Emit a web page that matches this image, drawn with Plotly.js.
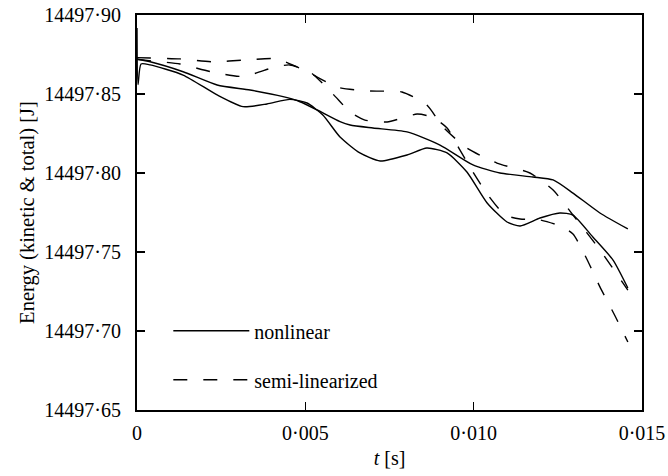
<!DOCTYPE html>
<html>
<head>
<meta charset="utf-8">
<script src="https://cdn.plot.ly/plotly-3.0.1.min.js"></script>
<style>html,body{margin:0;padding:0;background:#fff;}#chart{width:668px;height:476px;}</style>
</head>
<body>
<div id="chart"></div>
<script>
// Nonlinear model: total energy
const tNlTotal = [0, 0.00039, 0.00137, 0.00238, 0.00336, 0.00434, 0.00484, 0.00535, 0.00603, 0.00633, 0.00701, 0.00802, 0.00900, 0.00998, 0.01078, 0.01176, 0.01236, 0.01295, 0.01375, 0.01458];
const eNlTotal = [14497.872, 14497.8704, 14497.8641, 14497.8557, 14497.8525, 14497.8483, 14497.8451, 14497.8399, 14497.8325, 14497.8304, 14497.8285, 14497.8260, 14497.8177, 14497.8051, 14497.8000, 14497.7975, 14497.7956, 14497.7873, 14497.7747, 14497.7646];
// Nonlinear model: kinetic energy
const tNlKinetic = [0, 0.00003, 0.00012, 0.00039, 0.00137, 0.00238, 0.00315, 0.00386, 0.00454, 0.00505, 0.00552, 0.00603, 0.00662, 0.00722, 0.00802, 0.00861, 0.00921, 0.00980, 0.01040, 0.01099, 0.01138, 0.01197, 0.01256, 0.01295, 0.01354, 0.01414, 0.01458];
const eNlKinetic = [14497.8918, 14497.856, 14497.869, 14497.8684, 14497.8620, 14497.8494, 14497.8420, 14497.8437, 14497.8466, 14497.8443, 14497.8367, 14497.8228, 14497.8127, 14497.8076, 14497.8114, 14497.8158, 14497.8127, 14497.8006, 14497.7810, 14497.7690, 14497.7665, 14497.7715, 14497.7747, 14497.7734, 14497.7595, 14497.7449, 14497.7272];
// Semi-linearized model: total energy
const tSlTotal = [0, 0.00039, 0.00128, 0.00226, 0.00321, 0.00416, 0.00505, 0.00597, 0.00692, 0.00787, 0.00861, 0.00909, 0.00980, 0.01069, 0.01167, 0.01236, 0.01295, 0.01375, 0.01458];
const eSlTotal = [14497.873, 14497.8728, 14497.8722, 14497.8704, 14497.8715, 14497.8722, 14497.8641, 14497.8542, 14497.8519, 14497.8513, 14497.8430, 14497.8291, 14497.8158, 14497.8063, 14497.8000, 14497.7892, 14497.7734, 14497.7513, 14497.7259];
// Semi-linearized model: kinetic energy
const tSlKinetic = [0, 0.00045, 0.00128, 0.00223, 0.00315, 0.00410, 0.00454, 0.00514, 0.00582, 0.00633, 0.00677, 0.00743, 0.00832, 0.00876, 0.00921, 0.00959, 0.00998, 0.01042, 0.01093, 0.01138, 0.01197, 0.01256, 0.01295, 0.01336, 0.01375, 0.01420, 0.01458];
const eSlKinetic = [14497.872, 14497.8709, 14497.8690, 14497.8639, 14497.8611, 14497.8671, 14497.8684, 14497.8639, 14497.8500, 14497.8386, 14497.8335, 14497.8323, 14497.8373, 14497.8354, 14497.8285, 14497.8146, 14497.8006, 14497.7861, 14497.7734, 14497.7709, 14497.7703, 14497.7665, 14497.7614, 14497.7456, 14497.7279, 14497.7095, 14497.6930];

const legendNames = ["nonlinear", "semi-linearized"];
const yTickVals = [14497.65, 14497.70, 14497.75, 14497.80, 14497.85, 14497.90];
const yTickText = ["14497·65", "14497·70", "14497·75", "14497·80", "14497·85", "14497·90"];
const xTickVals = [0, 0.005, 0.010, 0.015];
const xTickText = ["0", "0·005", "0·010", "0·015"];

const FONT = "Liberation Serif, Times New Roman, serif";
const solid = {color: "#000", width: 1.4, shape: "spline", smoothing: 0.6};
const dashed = {color: "#000", width: 1.4, shape: "spline", smoothing: 0.6, dash: "14px,16px"};

const traces = [
  {x: tNlTotal, y: eNlTotal, mode: "lines", line: solid, name: legendNames[0], legendgroup: "a", showlegend: true},
  {x: tNlKinetic, y: eNlKinetic, mode: "lines", line: solid, name: legendNames[0], legendgroup: "a", showlegend: false},
  {x: tSlTotal, y: eSlTotal, mode: "lines", line: dashed, name: legendNames[1], legendgroup: "b", showlegend: true},
  {x: tSlKinetic, y: eSlKinetic, mode: "lines", line: dashed, name: legendNames[1], legendgroup: "b", showlegend: false}
];

const axisCommon = {
  showgrid: false, zeroline: false, showline: true, linecolor: "#000", linewidth: 2,
  mirror: "ticks", ticks: "inside", ticklen: 8, tickwidth: 1.5, tickcolor: "#000",
  tickfont: {family: FONT, size: 20, color: "#000"}
};

const layout = {
  width: 668, height: 476,
  margin: {l: 137, r: 26, t: 15, b: 66},
  paper_bgcolor: "#fff", plot_bgcolor: "#fff",
  font: {family: FONT, size: 20, color: "#000"},
  xaxis: Object.assign({}, axisCommon, {
    range: [0, 0.015], tickmode: "array", tickvals: xTickVals, ticktext: xTickText,
    ticklabelstandoff: 4,
    title: {text: "<i>t</i> [s]", font: {family: FONT, size: 20, color: "#000"}, standoff: 8}
  }),
  yaxis: Object.assign({}, axisCommon, {
    range: [14497.65, 14497.90], tickmode: "array", tickvals: yTickVals, ticktext: yTickText,
    ticklabelstandoff: 10,
    title: {text: "Energy (kinetic & total) [J]", font: {family: FONT, size: 20.5, color: "#000"}, standoff: 4}
  }),
  showlegend: true,
  legend: {
    x: 0.062, y: 0.25, xanchor: "left", yanchor: "top",
    bgcolor: "rgba(0,0,0,0)", borderwidth: 0,
    font: {family: FONT, size: 20, color: "#000"},
    tracegroupgap: 20, itemwidth: 76
  }
};

Plotly.newPlot("chart", traces, layout, {staticPlot: true, displayModeBar: false});
</script>
</body>
</html>
